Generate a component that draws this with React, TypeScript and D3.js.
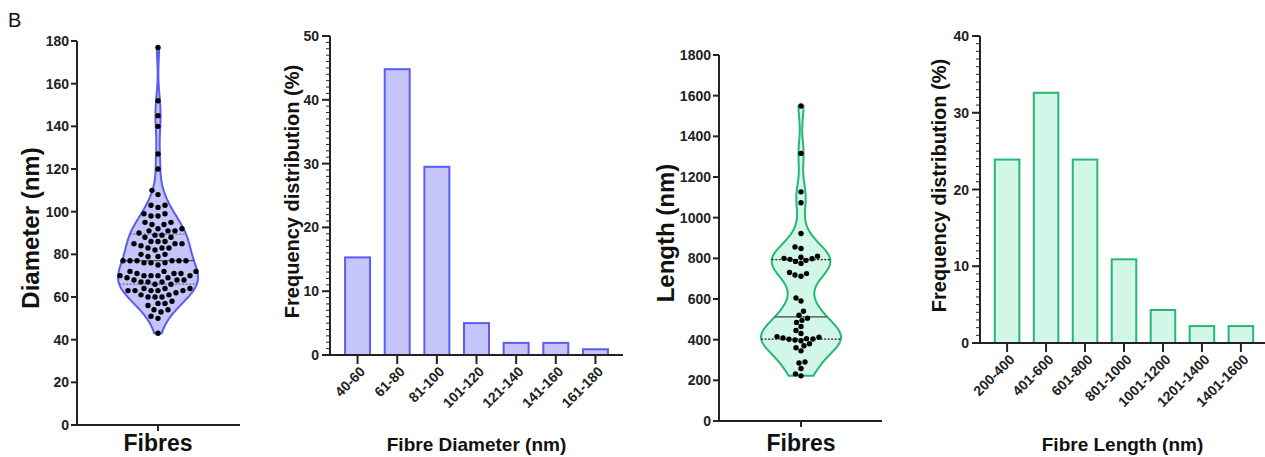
import React from 'react';
import * as d3 from 'd3';

const FONT = '"Liberation Sans", Arial, Helvetica, sans-serif';

// fibre diameters (nm)
const diameters = [
  43,
  50, 51,
  53, 54, 54,
  56, 57, 57, 58,
  60, 60, 60, 61, 61,
  62, 63, 63, 63, 63, 63, 64, 64, 64,
  66, 66, 67, 67, 67, 68, 68, 68, 69, 69,
  70, 70, 70, 70, 70, 71, 71, 71, 72, 72, 72,
  75, 76, 76, 76, 77, 77, 77, 77, 77, 77,
  79, 79, 80, 80,
  82, 83, 83, 83, 84,
  85, 85, 85, 86, 86, 86,
  88, 88, 89, 89,
  90, 91, 91, 91, 92, 92,
  94, 94, 95, 95,
  98, 98, 99, 99,
  102, 103, 103,
  108, 110,
  120, 127, 140, 145, 152, 177,
];

// fibre lengths (nm)
const lengths = [
  222, 232, 258, 285, 290, 345, 360, 370, 380, 395, 398,
  402, 403, 405, 408, 412, 415, 430, 445, 465, 485, 495, 505, 520, 540, 590,
  605, 712, 718, 725, 730, 775, 785, 790, 795, 798, 800,
  805, 810, 848, 856, 922, 1073, 1127, 1316, 1549,
];

const diameterBins = ['40-60', '61-80', '81-100', '101-120', '121-140', '141-160', '161-180'];
const diameterFreq = [15.3, 44.8, 29.5, 5.0, 1.9, 1.9, 0.9];

const lengthBins = ['200-400', '401-600', '601-800', '801-1000', '1001-1200', '1201-1400', '1401-1600'];
const lengthFreq = [23.9, 32.6, 23.9, 10.9, 4.3, 2.2, 2.2];

const purple = { fill: '#c5c5fb', stroke: '#5c5cf0', q: '#6b6b8a', med: '#333' };
const green = { fill: '#d2f7e8', stroke: '#26b873', q: '#222', med: '#444' };

function swarm(vals: number[], y: (v: number) => number, cx: number, gap: number) {
  const pts: { x: number; y: number }[] = [];
  const sorted = [...vals].sort(d3.ascending);
  for (const v of sorted) {
    const py = y(v);
    let px = cx;
    for (let k = 0; k < 400; k++) {
      const off = (k % 2 ? -1 : 1) * Math.ceil(k / 2) * 0.5;
      const c = cx + off;
      if (pts.every((p) => (p.x - c) ** 2 + (p.y - py) ** 2 >= gap * gap)) {
        px = c;
        break;
      }
    }
    pts.push({ x: px, y: py });
  }
  return pts;
}

const Violin = (props: any) => {
  const { values, yMax, step, axisX, axisEnd, top, bottom, cx, bw, halfMax, color, title, titleX, gap } = props;
  const y = d3.scaleLinear().domain([0, yMax]).range([bottom, top]);
  const [lo, hi] = d3.extent(values) as [number, number];
  const kde = (v: number) => d3.mean(values, (d: number) => Math.exp(-0.5 * ((v - d) / bw) ** 2)) as number;
  const grid = d3.range(0, 241).map((i) => lo + ((hi - lo) * i) / 240);
  const dens = grid.map(kde);
  const w = d3.scaleLinear().domain([0, d3.max(dens) as number]).range([0, halfMax]);
  const area = d3
    .area<number>()
    .x0((d, i) => cx - w(dens[i]))
    .x1((d, i) => cx + w(dens[i]))
    .y((d) => y(d))
    .curve(d3.curveBasis);

  const sorted = [...values].sort(d3.ascending);
  const quart = [0.25, 0.5, 0.75].map((p) => d3.quantile(sorted, p) as number);
  const dots = swarm(values, y, cx, gap);
  const ticks = d3.range(0, yMax + 1, step);

  return (
    <g>
      <path d={area(grid) || ''} fill={color.fill} stroke={color.stroke} strokeWidth={2} />
      {quart.map((q, i) => (
        <line
          key={i}
          x1={cx - w(kde(q))}
          x2={cx + w(kde(q))}
          y1={y(q)}
          y2={y(q)}
          stroke={i === 1 ? color.med : color.q}
          strokeWidth={1.2}
          strokeDasharray={i === 1 ? undefined : '2,1.5'}
        />
      ))}
      {dots.map((p, i) => (
        <circle key={i} cx={p.x} cy={p.y} r={2.7} fill="#000" />
      ))}
      <line x1={axisX} x2={axisX} y1={bottom} y2={y(yMax)} stroke="#222" strokeWidth={2} />
      <line x1={axisX - 1} x2={axisEnd} y1={bottom} y2={bottom} stroke="#222" strokeWidth={2} />
      <line x1={cx} x2={cx} y1={bottom} y2={bottom + 6} stroke="#222" strokeWidth={2} />
      {ticks.map((t: number) => (
        <g key={t}>
          <line x1={axisX - 6} x2={axisX} y1={y(t)} y2={y(t)} stroke="#222" strokeWidth={2} />
          <text x={axisX - 8} y={y(t)} dy="0.36em" textAnchor="end" fontSize={14} fontWeight="bold" fill="#222">
            {t}
          </text>
        </g>
      ))}
      <text x={cx} y={451} textAnchor="middle" fontSize={23} fontWeight="bold" fill="#111">
        Fibres
      </text>
      <text
        transform={`translate(${titleX},${(top + bottom) / 2 - 5}) rotate(-90)`}
        textAnchor="middle"
        dominantBaseline="central"
        fontSize={24}
        fontWeight="bold"
        fill="#111"
      >
        {title}
      </text>
    </g>
  );
};

const Histogram = (props: any) => {
  const { bins, freq, yMax, axisX, axisEnd, range, top, bottom, color, xTitle, titleX } = props;
  const x = d3.scaleBand().domain(bins).range(range).paddingInner(0.37).paddingOuter(0.38);
  const y = d3.scaleLinear().domain([0, yMax]).range([bottom, top]);
  const minor = d3.range(0, yMax + 1, 1);
  const major = d3.range(0, yMax + 1, 10);
  const mid = (axisX + axisEnd) / 2;
  return (
    <g>
      {bins.map((b: string, i: number) => (
        <rect
          key={b}
          x={x(b)}
          y={y(freq[i])}
          width={x.bandwidth()}
          height={bottom - y(freq[i])}
          fill={color.fill}
          stroke={color.stroke}
          strokeWidth={2}
        />
      ))}
      <line x1={axisX} x2={axisX} y1={bottom} y2={top} stroke="#222" strokeWidth={2} />
      <line x1={axisX - 1} x2={axisEnd} y1={bottom} y2={bottom} stroke="#222" strokeWidth={2} />
      {minor.map((t: number) => (
        <line key={'m' + t} x1={axisX - 4} x2={axisX} y1={y(t)} y2={y(t)} stroke="#222" strokeWidth={1} />
      ))}
      {major.map((t: number) => (
        <g key={t}>
          <line x1={axisX - 8} x2={axisX} y1={y(t)} y2={y(t)} stroke="#222" strokeWidth={2} />
          <text x={axisX - 11} y={y(t)} dy="0.36em" textAnchor="end" fontSize={14} fontWeight="bold" fill="#222">
            {t}
          </text>
        </g>
      ))}
      {bins.map((b: string) => {
        const c = (x(b) as number) + x.bandwidth() / 2;
        return (
          <g key={'t' + b}>
            <line x1={c} x2={c} y1={bottom} y2={bottom + 9} stroke="#222" strokeWidth={2} />
            <text
              transform={`translate(${c + 5},${bottom + 14}) rotate(-45)`}
              textAnchor="end"
              dy="0.35em"
              fontSize={14}
              fontWeight="bold"
              fill="#222"
            >
              {b}
            </text>
          </g>
        );
      })}
      <text x={mid} y={451} textAnchor="middle" fontSize={19} fontWeight="bold" fill="#111">
        {xTitle}
      </text>
      <text
        transform={`translate(${titleX},${(top + bottom) / 2 - 4}) rotate(-90)`}
        textAnchor="middle"
        dominantBaseline="central"
        fontSize={20}
        fontWeight="bold"
        fill="#111"
      >
        Frequency distribution (%)
      </text>
    </g>
  );
};

export default function App() {
  return (
    <svg
      width={1265}
      height={457}
      style={{ position: 'absolute', left: 0, top: 0, background: '#fff', fontFamily: FONT }}
    >
      <text x={8} y={27} fontSize={20} fill="#111">
        B
      </text>
      <Violin
        values={diameters}
        yMax={180}
        step={20}
        axisX={77}
        axisEnd={240}
        top={41}
        bottom={425}
        cx={158}
        bw={6.5}
        halfMax={40}
        gap={7}
        color={purple}
        title="Diameter (nm)"
        titleX={30}
      />
      <Histogram
        bins={diameterBins}
        freq={diameterFreq}
        yMax={50}
        axisX={330}
        axisEnd={623}
        range={[330, 623]}
        top={36}
        bottom={355}
        color={purple}
        xTitle="Fibre Diameter (nm)"
        titleX={292}
      />
      <Violin
        values={lengths}
        yMax={1800}
        step={200}
        axisX={719}
        axisEnd={882}
        top={55}
        bottom={421}
        cx={801}
        bw={70}
        halfMax={40}
        gap={5.8}
        color={green}
        title="Length (nm)"
        titleX={665}
      />
      <Histogram
        bins={lengthBins}
        freq={lengthFreq}
        yMax={40}
        axisX={980}
        axisEnd={1265}
        range={[980, 1268]}
        top={36}
        bottom={343}
        color={green}
        xTitle="Fibre Length (nm)"
        titleX={939}
      />
    </svg>
  );
}
